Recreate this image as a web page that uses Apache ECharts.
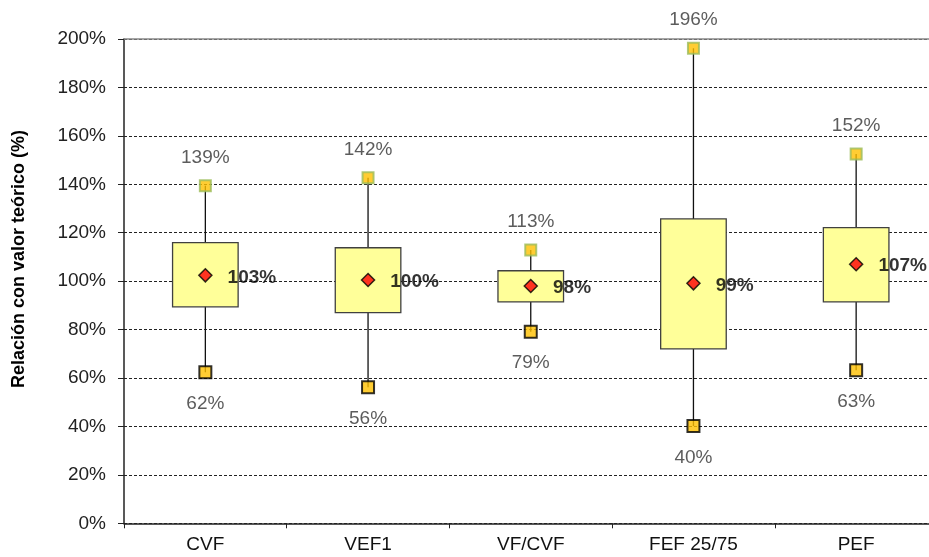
<!DOCTYPE html>
<html>
<head>
<meta charset="utf-8">
<script src="https://cdn.jsdelivr.net/npm/echarts@6/dist/echarts.min.js"></script>
<style>html,body{margin:0;padding:0;background:#fff}#c{width:929px;height:557px}</style>
</head>
<body>
<div id="c"></div>
<script>
var categories = ['CVF', 'VEF1', 'VF/CVF', 'FEF 25/75', 'PEF'];
var maxValues = [139.4, 142.7, 112.9, 196.2, 152.5];
var minValues = [62.4, 56.2, 79.1, 40.2, 63.2];
var q3Values = [115.9, 113.8, 104.3, 125.7, 122.1];
var q1Values = [89.4, 87.0, 91.4, 72.0, 91.4];
var meanValues = [102.4, 100.5, 98.0, 99.1, 107.0];
var maxLabels = ['139%', '142%', '113%', '196%', '152%'];
var minLabels = ['62%', '56%', '79%', '40%', '63%'];
var meanLabels = ['103%', '100%', '98%', '99%', '107%'];
var yTicks = { min: 0, max: 200, interval: 20 };

var font = 'Liberation Sans, Arial, sans-serif';
var boxData = categories.map(function (c, i) { return [i, minValues[i], q1Values[i], q3Values[i], maxValues[i]]; });

var chart = echarts.init(document.getElementById('c'));
chart.setOption({
  animation: false,
  grid: { left: 124, top: 39, width: 813.5, height: 484.3, containLabel: false, outerBoundsMode: 'none' },
  xAxis: [{
    type: 'category', data: categories, boundaryGap: true,
    axisLine: { lineStyle: { color: '#222', width: 1.5 } },
    axisTick: { show: true, length: 5, lineStyle: { color: '#222' } },
    axisLabel: { fontFamily: font, fontSize: 19, color: '#111', margin: 12 }
  }, {
    type: 'category', data: categories, position: 'top',
    axisLine: { show: true, lineStyle: { color: '#888', width: 1.5 } },
    axisTick: { show: false }, axisLabel: { show: false }
  }],
  yAxis: {
    type: 'value', min: yTicks.min, max: yTicks.max, interval: yTicks.interval,
    axisLine: { show: true, lineStyle: { color: '#222', width: 1.5 } },
    axisTick: { show: true, length: 6, lineStyle: { color: '#222' } },
    axisLabel: { fontFamily: font, fontSize: 19, color: '#222', margin: 18, formatter: '{value}%' },
    splitLine: { show: true, lineStyle: { color: '#222', type: [3, 2], width: 1 } }
  },
  graphic: [{
    type: 'text', left: 10, top: 130, rotation: Math.PI / 2,
    style: { text: 'Relación con valor teórico (%)', font: 'bold 18px ' + font, fill: '#000' }
  }],
  series: [{
    type: 'custom',
    data: boxData,
    z: 2,
    renderItem: function (params, api) {
      var x = api.value(0);
      var pMin = api.coord([x, api.value(1)]);
      var pQ1 = api.coord([x, api.value(2)]);
      var pQ3 = api.coord([x, api.value(3)]);
      var pMax = api.coord([x, api.value(4)]);
      var w = api.size([1, 0])[0] * 0.403;
      return {
        type: 'group',
        children: [{
          type: 'line',
          shape: { x1: pMin[0], y1: pMin[1], x2: pMax[0], y2: pMax[1] },
          style: { stroke: '#111', lineWidth: 1.3 }
        }, {
          type: 'rect',
          shape: { x: pQ3[0] - w / 2, y: pQ3[1], width: w, height: pQ1[1] - pQ3[1] },
          style: { fill: '#FFFF99', stroke: '#404040', lineWidth: 1.3 }
        }]
      };
    }
  }, {
    type: 'scatter', z: 3,
    data: maxValues.map(function (v, i) { return { value: [i, v], label: { formatter: maxLabels[i] } }; }),
    symbol: 'rect', symbolSize: 11,
    itemStyle: { color: '#FFC000', borderColor: '#9BBB59', borderWidth: 2 },
    label: { show: true, position: 'top', distance: 12, fontFamily: font, fontSize: 19, color: '#333' }
  }, {
    type: 'scatter', z: 3,
    data: minValues.map(function (v, i) { return { value: [i, v], label: { formatter: minLabels[i] } }; }),
    symbol: 'rect', symbolSize: 12,
    itemStyle: { color: '#FFC000', borderColor: '#000', borderWidth: 2 },
    label: { show: true, position: 'bottom', distance: 15, fontFamily: font, fontSize: 19, color: '#333' }
  }, {
    type: 'scatter', z: 4,
    data: meanValues.map(function (v, i) { return { value: [i, v], label: { formatter: meanLabels[i] } }; }),
    symbol: 'diamond', symbolSize: 13,
    itemStyle: { color: '#FF0000', borderColor: '#000', borderWidth: 1.5 },
    label: { show: true, position: 'right', distance: 15, offset: [0, 2], fontFamily: font, fontSize: 19, fontWeight: 'bold', color: '#000' }
  }]
});
</script>
</body>
</html>
